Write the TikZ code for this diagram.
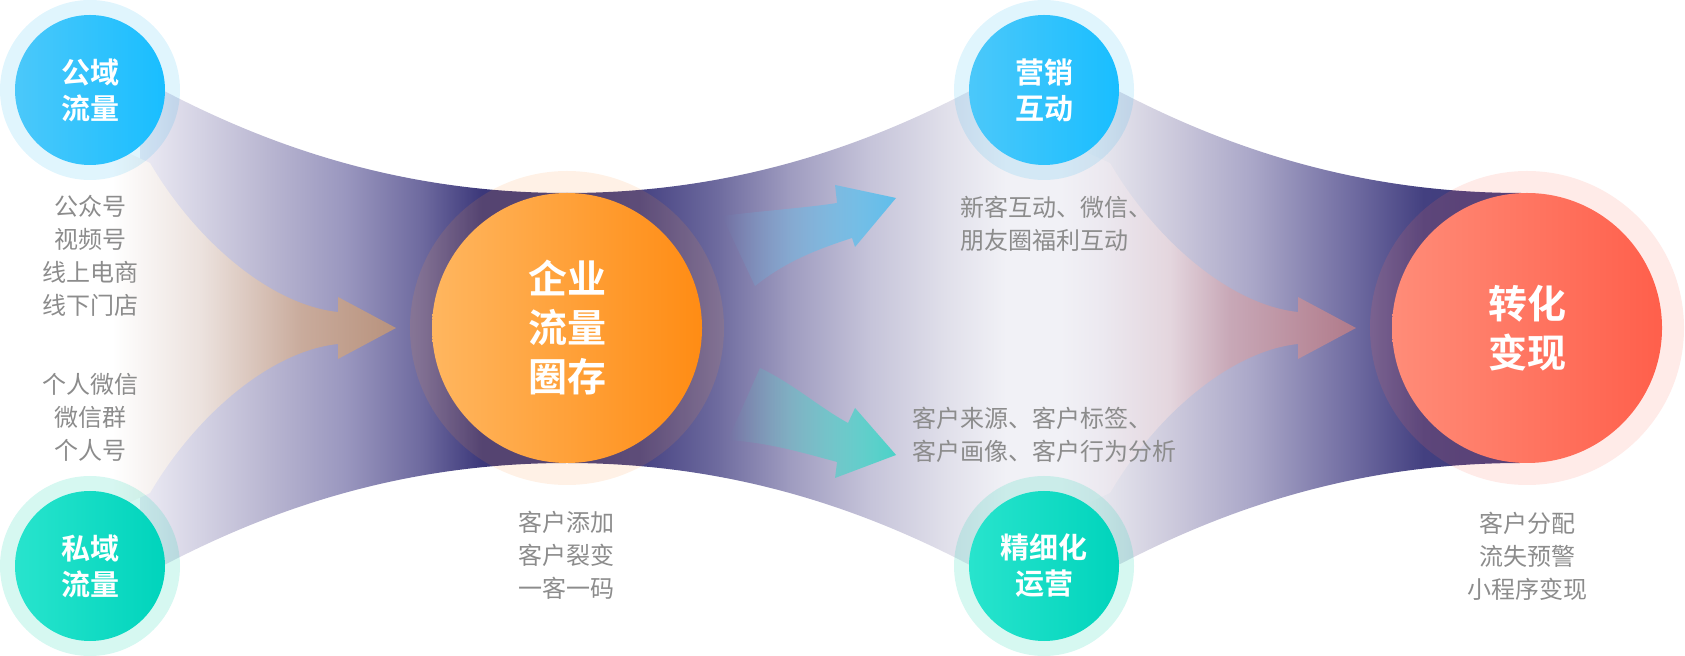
\documentclass[tikz,border=0pt]{standalone}
\usepackage{fontspec}
\usetikzlibrary{fadings}
\newfontfamily\cjk{Noto Sans CJK SC}
\newfontfamily\cjkb{Noto Sans CJK SC Bold}
\definecolor{nv}{RGB}{60,56,122}
\definecolor{bAa}{RGB}{236,235,244}
\definecolor{bAb}{RGB}{185,182,209}
\definecolor{bAc}{RGB}{154,151,191}
\definecolor{bAd}{RGB}{110,106,159}
\definecolor{bB1}{RGB}{70,66,130}
\definecolor{bB2}{RGB}{109,106,158}
\definecolor{bB3}{RGB}{159,156,192}
\definecolor{bB4}{RGB}{197,195,217}
\definecolor{bB5}{RGB}{224,223,234}
\definecolor{bB6}{RGB}{241,241,246}
\definecolor{bB7}{RGB}{232,232,239}
\definecolor{bB8}{RGB}{204,201,220}
\definecolor{bB9}{RGB}{170,167,200}
\definecolor{bB10}{RGB}{110,106,160}
\definecolor{bB11}{RGB}{67,64,128}
\definecolor{tn1}{RGB}{236,226,222}
\definecolor{tn2}{RGB}{201,171,156}
\definecolor{tn3}{RGB}{184,146,125}
\definecolor{pk0}{RGB}{236,233,240}
\definecolor{pk1}{RGB}{228,214,222}
\definecolor{pk2}{RGB}{200,168,183}
\definecolor{pk3}{RGB}{176,122,138}
\definecolor{arB}{RGB}{95,190,235}
\definecolor{arT}{RGB}{75,210,200}
\definecolor{blL}{RGB}{75,200,250}
\definecolor{blR}{RGB}{25,190,255}
\definecolor{grL}{RGB}{40,228,205}
\definecolor{grR}{RGB}{0,212,188}
\definecolor{orL}{RGB}{255,182,95}
\definecolor{orR}{RGB}{255,140,20}
\definecolor{rdL}{RGB}{255,140,120}
\definecolor{rdR}{RGB}{255,95,75}
\definecolor{haB}{RGB}{0,170,240}
\definecolor{haG}{RGB}{0,210,170}
\definecolor{haO}{RGB}{255,150,60}
\definecolor{haR}{RGB}{255,110,90}
\definecolor{gtx}{RGB}{140,140,140}
\pgfdeclarehorizontalshading{bandA}{100bp}{color(0bp)=(bAa); color(25bp)=(bAa); color(40bp)=(bAb); color(49bp)=(bAc); color(58bp)=(bAd); color(65bp)=(nv); color(100bp)=(nv)}
\pgfdeclarehorizontalshading{bandB}{100bp}{color(0bp)=(nv); color(25bp)=(nv); color(28.8bp)=(bB1); color(32.8bp)=(bB2); color(36.7bp)=(bB3); color(40.8bp)=(bB4); color(44.8bp)=(bB5); color(48bp)=(bB6); color(51bp)=(bB6); color(52.8bp)=(bB7); color(56.8bp)=(bB8); color(60.9bp)=(bB9); color(66.3bp)=(bB10); color(69.9bp)=(bB11); color(75bp)=(nv); color(100bp)=(nv)}
\pgfdeclarehorizontalshading{tanA}{100bp}{color(0bp)=(white); color(27bp)=(white); color(42bp)=(tn1); color(59bp)=(tn2); color(75bp)=(tn3); color(100bp)=(tn3)}
\pgfdeclarehorizontalshading{pinkA}{100bp}{color(0bp)=(bB6); color(25bp)=(bB6); color(32bp)=(pk0); color(43.5bp)=(pk1); color(53.6bp)=(pk2); color(75bp)=(pk3); color(100bp)=(pk3)}
\tikzfading[name=fadeR, left color=transparent!100, right color=transparent!0]
\tikzset{
  halo/.style={circle, inner sep=0pt, draw=none},
  smallc/.style={circle, inner sep=0pt, minimum size=75pt, text=white, align=center,
    font=\cjkb\fontsize{14.5}{18}\selectfont},
  bigc/.style={circle, inner sep=0pt, minimum size=135pt, text=white, align=center,
    font=\cjkb\fontsize{19.5}{24.5}\selectfont},
  gtxt/.style={inner sep=0pt, text=gtx, align=center, font=\cjk\fontsize{12}{16.5}\selectfont}
}
\begin{document}
\begin{tikzpicture}[x=0.5pt,y=-0.5pt]
\useasboundingbox (0,0) rectangle (1685,656);
% bands
\shade[shading=bandA] (140,78) .. controls (240,133) and (380,193) .. (567,193) -- (567,463) .. controls (380,463) and (240,523) .. (140,578) -- cycle;
\shade[shading=bandB] (567,193) .. controls (754,193) and (894,133) .. (994,78) -- (1094,78) .. controls (1194,133) and (1334,193) .. (1521,193) -- (1521,463) .. controls (1334,463) and (1194,523) .. (1094,578) -- (994,578) .. controls (894,523) and (754,463) .. (567,463) -- cycle;
% inner arrows
\shade[shading=tanA] (100,140) -- (150,163) .. controls (195,240) and (270,305) .. (338,312) -- (338,297) -- (396,328) -- (338,359) -- (338,344) .. controls (270,351) and (195,416) .. (150,493) -- (100,516) -- cycle;
\shade[shading=pinkA] (1060,140) -- (1110,163) .. controls (1155,240) and (1230,305) .. (1298,312) -- (1298,297) -- (1356,328) -- (1298,359) -- (1298,344) .. controls (1230,351) and (1155,416) .. (1110,493) -- (1060,516) -- cycle;
\fill[arB, path fading=fadeR] (722,216) .. controls (770,210) and (805,208) .. (837,203) -- (835,185) -- (896,198) -- (855,247) -- (852,238) .. controls (815,250) and (785,262) .. (755,286) -- cycle;
\fill[arT, path fading=fadeR] (760,368) .. controls (795,385) and (820,408) .. (848,423) -- (855,408) -- (896,455) -- (835,478) -- (837,462) .. controls (800,452) and (770,443) .. (728,440) -- cycle;
% halos
\node[halo, minimum size=90pt, fill=haB, fill opacity=0.12] (h1) at (90,90) {};
\node[halo, minimum size=90pt, fill=haG, fill opacity=0.16] (h2) at (90,566) {};
\node[halo, minimum size=90pt, fill=haB, fill opacity=0.12] (h3) at (1044,90) {};
\node[halo, minimum size=90pt, fill=haG, fill opacity=0.16] (h4) at (1044,566) {};
\node[halo, minimum size=157pt, fill=haO, fill opacity=0.13] (h5) at (567,328) {};
\node[halo, minimum size=157pt, fill=haR, fill opacity=0.14] (h6) at (1527,328) {};
% circles
\node[smallc, left color=blL, right color=blR] (pub) at (90,90) {公域\\流量};
\node[smallc, left color=grL, right color=grR] (pri) at (90,566) {私域\\流量};
\node[smallc, left color=blL, right color=blR] (mkt) at (1044,90) {营销\\互动};
\node[smallc, left color=grL, right color=grR] (ops) at (1044,566) {精细化\\运营};
\node[bigc, left color=orL, right color=orR] (ent) at (567,328) {企业\\流量\\圈存};
\node[bigc, left color=rdL, right color=rdR] (cnv) at (1527,328) {转化\\变现};
% descriptions
\node[gtxt] (d1) at (90,256) {公众号\\视频号\\线上电商\\线下门店};
\node[gtxt] (d2) at (90,417) {个人微信\\微信群\\个人号};
\node[gtxt] (d3) at (566,555) {客户添加\\客户裂变\\一客一码};
\node[gtxt, align=left, anchor=west] (d4) at (960,224) {新客互动、微信、\\朋友圈福利互动};
\node[gtxt, align=left, anchor=west] (d5) at (912,435) {客户来源、客户标签、\\客户画像、客户行为分析};
\node[gtxt] (d6) at (1527,556) {客户分配\\流失预警\\小程序变现};
\end{tikzpicture}
\end{document}
